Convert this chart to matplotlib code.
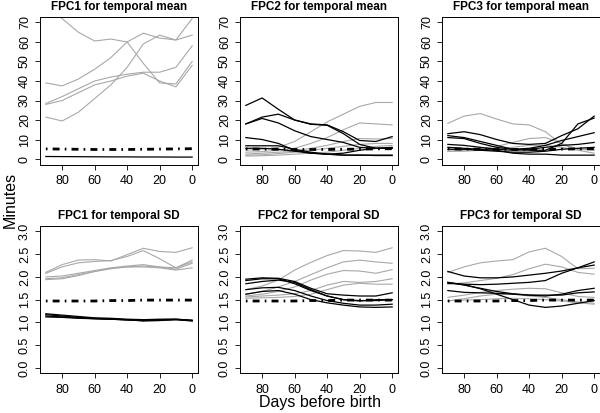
import numpy as np
from matplotlib import pyplot as plt
from matplotlib import rcParams

# R-ish look
rcParams['font.family'] = ['Liberation Sans', 'DejaVu Sans']
rcParams['xtick.direction'] = 'out'
rcParams['ytick.direction'] = 'out'
rcParams['xtick.major.size'] = 3.5
rcParams['ytick.major.size'] = 3.5
rcParams['xtick.major.width'] = 0.6
rcParams['ytick.major.width'] = 0.6
rcParams['xtick.major.pad'] = 4
rcParams['ytick.major.pad'] = 3
rcParams['xtick.labelsize'] = 9
rcParams['ytick.labelsize'] = 9
rcParams['axes.linewidth'] = 0.7

# days before birth (read every 10 days)
days = [90, 80, 70, 60, 50, 40, 30, 20, 10, 0]

# FPC1 for temporal mean
fpc1_mean_grey = [
    [78, 72, 65, 60.5, 61.5, 60, 49, 39, 38.5, 50],
    [39, 37.5, 41, 46, 52, 60, 64.5, 62, 61, 72],
    [28.5, 32, 36, 40, 42, 43.5, 44.5, 44.5, 47, 58],
    [28, 30, 34, 38, 40, 42.5, 44, 40, 37, 48],
    [21.5, 19.5, 24, 31, 38, 47, 59, 63.5, 61, 63.5],
]
fpc1_mean_black = [
    [1.3, 1.25, 1.2, 1.15, 1.1, 1.1, 1.05, 1.05, 1.0, 1.0],
]
fpc1_mean_avg = [5.2, 5.1, 5.0, 4.9, 4.9, 4.9, 5.0, 5.1, 5.2, 5.3]

# FPC2 for temporal mean
fpc2_mean_grey = [
    [4.5, 5, 6, 9, 14, 19, 23, 27, 29, 29],
    [3.5, 3.8, 4.5, 5.5, 8, 11, 15, 18.5, 18, 17.5],
    [2.5, 3, 3.5, 4, 5.5, 7, 9, 10.5, 10.3, 10.5],
    [2, 2.2, 2.8, 3.5, 4.5, 5.5, 6.5, 7.5, 8, 8],
    [1.5, 1.7, 2, 2.5, 3, 3.5, 4.5, 5.5, 6.5, 7],
]
fpc2_mean_black = [
    [27.5, 31.3, 25.5, 20, 17.8, 17.3, 13, 7.5, 5.5, 5.5],
    [18, 21.5, 23, 20, 18, 17.5, 14, 9.5, 9, 11.5],
    [18, 20.8, 18.5, 14.5, 11.5, 10, 8.5, 6, 5.5, 5.5],
    [11, 10, 8, 4.5, 3, 2.5, 2, 2, 2, 2],
    [6.8, 6.8, 6.8, 5, 3.5, 2.5, 2, 2, 1.8, 1.8],
    [5.5, 5.5, 5, 4, 3, 2.5, 3, 4.5, 5.5, 6],
]
fpc2_mean_avg = [5.2, 5.1, 5.0, 4.9, 4.9, 4.9, 5.0, 5.1, 5.2, 5.3]

# FPC3 for temporal mean
fpc3_mean_grey = [
    [18.3, 22, 23.3, 20.5, 18, 17.5, 14, 7.5, 5, 4.5],
    [4, 4.5, 5.5, 6.5, 8.5, 10.5, 11, 8, 5, 5],
    [4, 4, 4.5, 5, 6, 7, 7, 6, 4.5, 3],
]
fpc3_mean_black = [
    [13, 14, 12.5, 10, 8, 7.5, 8, 12, 15.5, 22],
    [12, 11, 9, 7, 5, 4.5, 4.5, 8, 18, 21],
    [11, 10.5, 8, 6, 5, 5.5, 7, 9.5, 11.5, 13.5],
    [7.5, 7, 6, 5, 4.5, 5, 6, 7, 7.5, 8.5],
    [6, 5.5, 5, 4.5, 3, 2.5, 2.5, 2, 2, 2],
    [5, 5, 4.5, 4, 3.5, 3.5, 4, 5, 5.5, 6],
]
fpc3_mean_avg = [5.2, 5.1, 5.0, 4.9, 4.9, 4.9, 5.0, 5.1, 5.2, 5.3]

# FPC1 for temporal SD
fpc1_sd_grey = [
    [2.1, 2.27, 2.37, 2.38, 2.35, 2.49, 2.63, 2.56, 2.54, 2.64],
    [2.08, 2.22, 2.31, 2.34, 2.36, 2.45, 2.58, 2.4, 2.2, 2.37],
    [2.0, 2.02, 2.08, 2.14, 2.2, 2.24, 2.27, 2.22, 2.2, 2.33],
    [1.96, 1.98, 2.05, 2.12, 2.18, 2.22, 2.24, 2.21, 2.17, 2.3],
    [1.94, 1.96, 2.03, 2.12, 2.19, 2.22, 2.22, 2.2, 2.15, 2.2],
]
fpc1_sd_black = [
    [1.19, 1.16, 1.13, 1.10, 1.09, 1.07, 1.06, 1.07, 1.07, 1.05],
    [1.17, 1.14, 1.11, 1.09, 1.07, 1.05, 1.04, 1.06, 1.07, 1.04],
    [1.14, 1.12, 1.10, 1.08, 1.07, 1.06, 1.05, 1.05, 1.06, 1.04],
    [1.12, 1.11, 1.09, 1.08, 1.07, 1.06, 1.03, 1.04, 1.06, 1.03],
]
fpc1_sd_avg = [1.47, 1.47, 1.47, 1.47, 1.48, 1.48, 1.49, 1.49, 1.49, 1.49]

# FPC2 for temporal SD
fpc2_sd_grey = [
    [1.72, 1.8, 1.93, 2.15, 2.32, 2.47, 2.58, 2.57, 2.54, 2.64],
    [1.62, 1.68, 1.78, 1.9, 2.05, 2.2, 2.33, 2.37, 2.33, 2.3],
    [1.58, 1.62, 1.68, 1.78, 1.93, 2.06, 2.14, 2.13, 2.08, 2.16],
    [1.56, 1.58, 1.6, 1.63, 1.7, 1.82, 1.9, 1.88, 1.9, 1.96],
    [1.53, 1.54, 1.55, 1.57, 1.62, 1.72, 1.82, 1.86, 1.84, 1.84],
]
fpc2_sd_black = [
    [1.95, 1.98, 1.97, 1.9, 1.75, 1.63, 1.6, 1.58, 1.58, 1.65],
    [1.92, 1.96, 1.96, 1.85, 1.7, 1.58, 1.5, 1.48, 1.48, 1.5],
    [1.85, 1.9, 1.93, 1.88, 1.72, 1.58, 1.5, 1.47, 1.5, 1.5],
    [1.72, 1.76, 1.77, 1.7, 1.58, 1.48, 1.42, 1.38, 1.38, 1.4],
    [1.62, 1.68, 1.7, 1.62, 1.5, 1.43, 1.38, 1.34, 1.33, 1.34],
]
fpc2_sd_avg = [1.47, 1.47, 1.47, 1.47, 1.48, 1.48, 1.49, 1.49, 1.49, 1.49]

# FPC3 for temporal SD
fpc3_sd_grey = [
    [2.1, 2.22, 2.31, 2.35, 2.38, 2.55, 2.63, 2.45, 2.18, 2.19],
    [1.84, 1.87, 1.92, 1.97, 2.05, 2.18, 2.28, 2.22, 2.1, 2.06],
    [1.55, 1.6, 1.66, 1.7, 1.73, 1.75, 1.74, 1.65, 1.57, 1.55],
    [1.47, 1.52, 1.58, 1.62, 1.62, 1.58, 1.55, 1.5, 1.45, 1.42],
    [1.48, 1.49, 1.5, 1.52, 1.53, 1.52, 1.5, 1.47, 1.43, 1.4],
]
fpc3_sd_black = [
    [2.12, 2.02, 1.98, 1.98, 2.0, 2.04, 2.08, 2.13, 2.2, 2.33],
    [1.86, 1.84, 1.83, 1.84, 1.86, 1.88, 1.92, 2.08, 2.2, 2.26],
    [1.88, 1.82, 1.75, 1.68, 1.63, 1.6, 1.6, 1.6, 1.65, 1.67],
    [1.88, 1.83, 1.74, 1.62, 1.5, 1.38, 1.33, 1.36, 1.42, 1.48],
    [1.7, 1.66, 1.65, 1.64, 1.62, 1.6, 1.58, 1.62, 1.7, 1.75],
]
fpc3_sd_avg = [1.47, 1.47, 1.47, 1.47, 1.48, 1.48, 1.49, 1.49, 1.49, 1.49]

titles = ['FPC1 for temporal mean', 'FPC2 for temporal mean', 'FPC3 for temporal mean',
          'FPC1 for temporal SD', 'FPC2 for temporal SD', 'FPC3 for temporal SD']
panels = [
    (fpc1_mean_grey, fpc1_mean_black, fpc1_mean_avg),
    (fpc2_mean_grey, fpc2_mean_black, fpc2_mean_avg),
    (fpc3_mean_grey, fpc3_mean_black, fpc3_mean_avg),
    (fpc1_sd_grey, fpc1_sd_black, fpc1_sd_avg),
    (fpc2_sd_grey, fpc2_sd_black, fpc2_sd_avg),
    (fpc3_sd_grey, fpc3_sd_black, fpc3_sd_avg),
]

fig = plt.figure(figsize=(6.0, 4.13), dpi=100)

W, H = 600.0, 413.0
lefts = [40, 240, 442]
width = 158
rows = [(17, 164.5), (226, 373.3)]   # top, bottom in pixels

for i, (grey, black, avg) in enumerate(panels):
    r, c = divmod(i, 3)
    top, bot = rows[r]
    ax = fig.add_axes([lefts[c] / W, 1 - bot / H, width / W, (bot - top) / H])

    for y in grey:
        ax.plot(days, y, color='#a8a8a8', lw=0.8)
    for y in black:
        ax.plot(days, y, color='black', lw=0.9)
    ax.plot(days, avg, color='black', lw=2.0, dashes=(0.6, 1.85, 2.5, 1.85),
            dash_capstyle='butt')

    ax.set_xlim(93.6, -3.6)
    ax.set_xticks([80, 60, 40, 20, 0])
    if r == 0:
        ax.set_ylim(-2.8, 72.8)
        ax.set_yticks(np.arange(0, 71, 10))
    else:
        ax.set_ylim(-0.12, 3.12)
        ax.set_yticks(np.arange(0, 3.01, 0.5))
        ax.set_yticklabels(['%.1f' % v for v in np.arange(0, 3.01, 0.5)])
    for lab in ax.get_yticklabels():
        lab.set_rotation(90)
        lab.set_va('center')
    ax.set_title(titles[i], fontsize=8.5, fontweight='bold', pad=5)

fig.text(0.017, 1 - 200 / H, 'Minutes', rotation=90, ha='center', va='center', fontsize=11.5)
fig.text(320 / W, 1 - 403 / H, 'Days before birth', ha='center', va='center', fontsize=11.5)

plt.savefig('out.png', dpi=100)
